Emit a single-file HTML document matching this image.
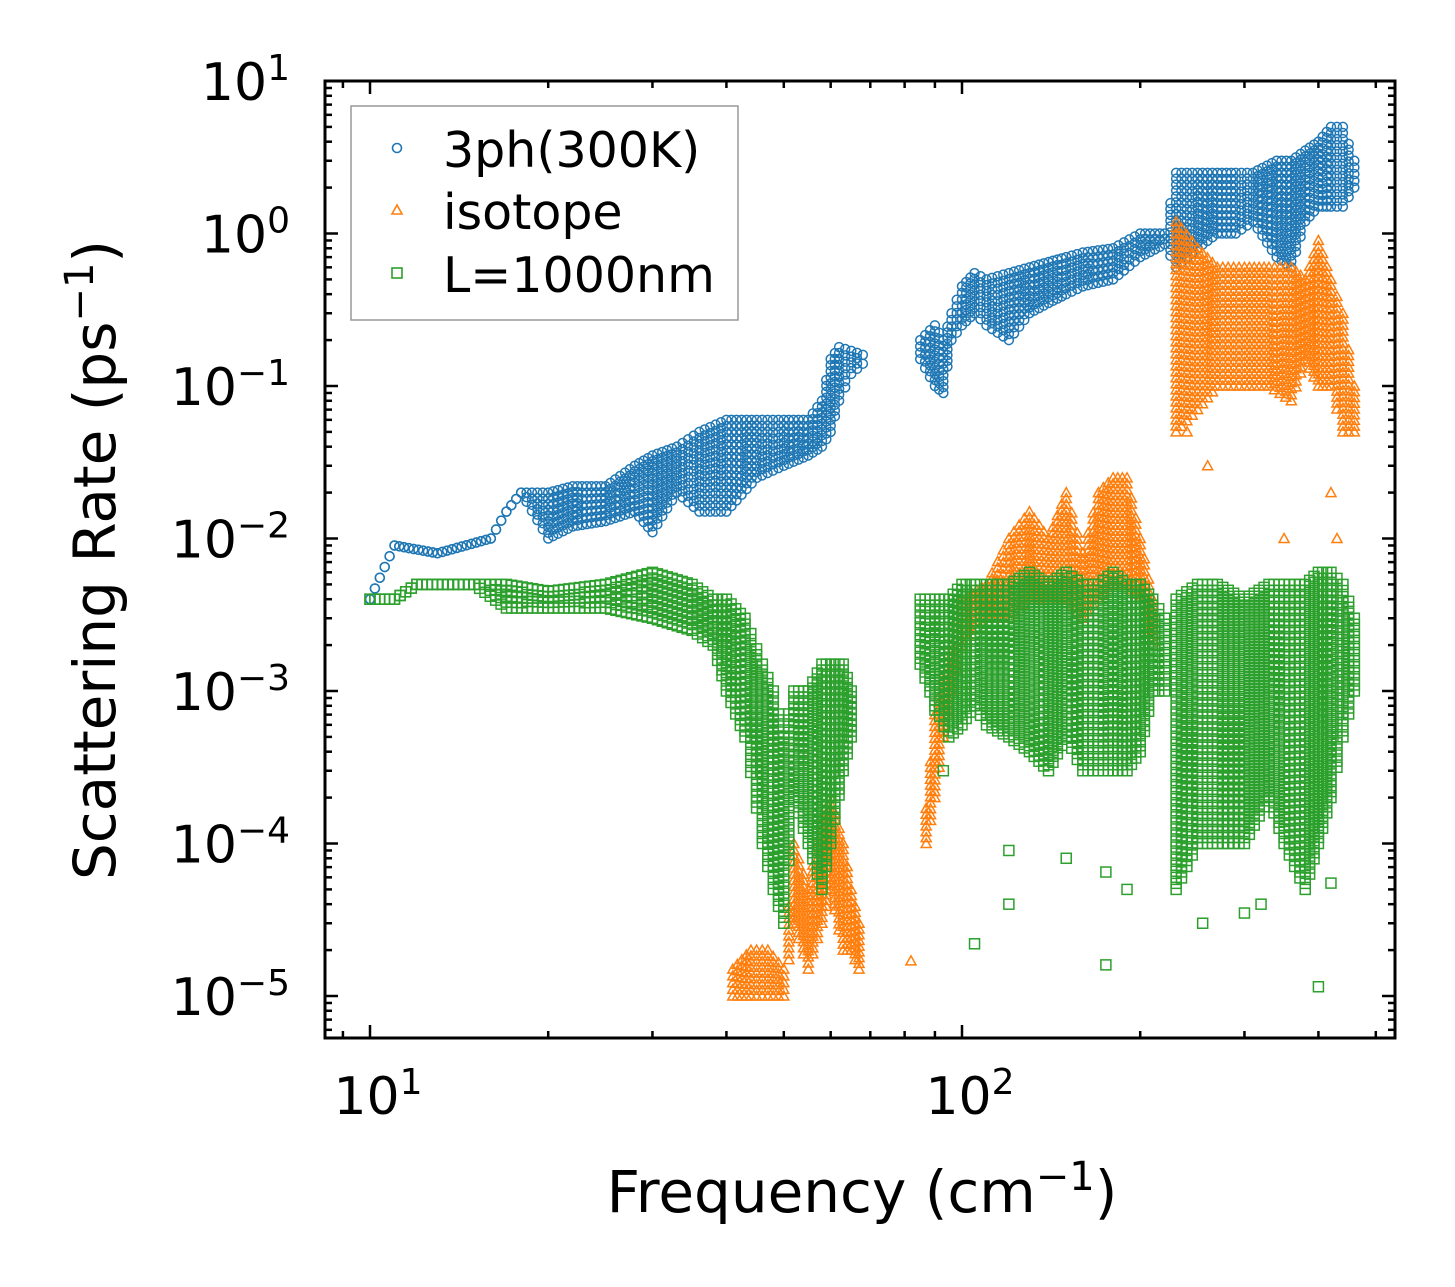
<!DOCTYPE html>
<html><head><meta charset="utf-8"><style>
body{margin:0;background:#fff}
svg{display:block}
text{font-family:"DejaVu Sans","Liberation Sans",sans-serif;fill:#000}
</style></head><body>
<svg id="chart" width="1455" height="1287" viewBox="0 0 1455 1287" xmlns="http://www.w3.org/2000/svg">
<rect width="1455" height="1287" fill="#fff"/>
<g id="marks"></g>
<g id="axes"></g>
<g id="legend">
<rect x="351" y="106" width="387" height="214" fill="#fff" fill-opacity="0.85" stroke="#999" stroke-width="1.5"/>
<circle cx="397" cy="148" r="4.5" fill="none" stroke="#1f77b4" stroke-width="1.6"/>
<text x="443" y="167" font-size="49">3ph(300K)</text>
<polygon points="397,205 402,214 392,214" fill="none" stroke="#ff7f0e" stroke-width="1.6"/>
<text x="443" y="229" font-size="49">isotope</text>
<rect x="392" y="268" width="10" height="10" fill="none" stroke="#2ca02c" stroke-width="1.6"/>
<text x="443" y="292" font-size="49">L=1000nm</text>
</g>
<text x="862" y="1212" font-size="58" text-anchor="middle">Frequency (cm<tspan dy="-22" font-size="40">−1</tspan><tspan dy="22">)</tspan></text>
<text transform="translate(115,560) rotate(-90)" font-size="58" text-anchor="middle">Scattering Rate (ps<tspan dy="-22" font-size="40">−1</tspan><tspan dy="22">)</tspan></text>
</svg>
<script>
// Envelope data: frequency (cm^-1), lower and upper scattering rate (ps^-1)
const blueFreq=[10,11,13,16,17,18,20,22,25,28,30,33,36,40,45,50,55,58,60,62,65,68];
const blueLo=[0.004,0.009,0.008,0.01,0.015,0.02,0.01,0.012,0.013,0.015,0.011,0.02,0.015,0.015,0.025,0.03,0.035,0.04,0.05,0.08,0.12,0.14];
const blueHi=[0.004,0.009,0.008,0.01,0.015,0.02,0.02,0.022,0.022,0.03,0.035,0.04,0.05,0.06,0.06,0.06,0.06,0.08,0.15,0.18,0.17,0.16];
const blueFreq2=[85,90,93,96,100,105,110,120,130,140,150,160,180,200,220,230,250,270,290,310,340,360,380,400,420,440,460];
const blueLo2=[0.15,0.1,0.09,0.2,0.25,0.3,0.25,0.2,0.3,0.35,0.4,0.45,0.5,0.7,0.85,0.6,0.8,1.0,1.0,1.2,0.7,0.6,1.2,1.5,1.5,1.5,2];
const blueHi2=[0.2,0.25,0.2,0.3,0.45,0.55,0.5,0.55,0.6,0.65,0.7,0.75,0.8,1.0,1.0,2.5,2.5,2.5,2.5,2.5,3,3,3.5,4,5,5,3];
const orFreq=[41,44,47,50,52,55,58,60,63,65,67];
const orLo=[1e-5,1e-5,1e-5,1e-5,3e-5,1.5e-5,3e-5,5e-5,2e-5,2e-5,1.5e-5];
const orHi=[1.5e-5,2e-5,2e-5,1.5e-5,1e-4,5e-5,1.5e-4,2e-4,1e-4,5e-5,3e-5];
const orFreq2=[87,90,93,96,100,110,120,130,140,150,160,170,180,190,200,210];
const orLo2=[1e-4,2e-4,5e-4,1e-3,2e-3,3e-3,3e-3,4e-3,4e-3,4e-3,3e-3,4e-3,5e-3,5e-3,4e-3,2e-3];
const orHi2=[1.7e-4,7e-4,1.2e-3,2e-3,4e-3,5e-3,1e-2,1.5e-2,1e-2,2e-2,8e-3,2e-2,2.5e-2,2.5e-2,1e-2,4e-3];
const orFreq3=[230,250,270,300,330,360,380,400,420,440,460];
const orLo3=[0.05,0.07,0.1,0.1,0.1,0.08,0.15,0.1,0.1,0.05,0.05];
const orHi3=[1.2,0.8,0.6,0.6,0.6,0.6,0.5,0.9,0.5,0.3,0.1];
const grFreq=[10,11,12,13,15,17,20,25,30,35,38,40,43,46,48,50,52,55,58,60,63,65];
const grLo=[0.004,0.004,0.005,0.005,0.005,0.0035,0.0035,0.0035,0.003,0.0025,0.002,0.001,0.0005,0.0001,0.00005,0.00003,0.0002,0.0001,0.00005,0.0001,0.0003,0.0005];
const grHi=[0.004,0.004,0.005,0.005,0.005,0.005,0.0045,0.005,0.006,0.005,0.004,0.004,0.003,0.0015,0.001,0.0005,0.001,0.001,0.0015,0.0015,0.0015,0.001];
const grFreq2=[85,90,95,100,105,110,120,130,140,150,160,170,180,190,200,210,220];
const grLo2=[0.0015,0.0008,0.0005,0.0006,0.0008,0.0006,0.0005,0.0004,0.0003,0.0005,0.0003,0.0003,0.0003,0.0003,0.0004,0.001,0.001];
const grHi2=[0.004,0.004,0.004,0.005,0.005,0.005,0.005,0.006,0.005,0.006,0.005,0.005,0.006,0.005,0.005,0.004,0.003];
const grFreq3=[230,250,270,300,330,350,380,400,420,440,460];
const grLo3=[0.00005,0.0001,0.0001,0.0001,0.0002,0.0001,0.00005,0.0001,0.0002,0.0005,0.001];
const grHi3=[0.004,0.005,0.005,0.004,0.005,0.005,0.005,0.006,0.006,0.005,0.003];
const grOutX=[120,120,105,150,175,190,175,255,300,320,420,400,90,93];
const grOutY=[9e-5,4e-5,2.2e-5,8e-5,6.5e-5,5e-5,1.6e-5,3e-5,3.5e-5,4e-5,5.5e-5,1.15e-5,7.5e-4,3e-4];
const orOutX=[82,240,260,350,420,430];
const orOutY=[1.7e-5,0.05,0.03,0.01,0.02,0.01];
const xTickVals=[10,100];
const yTickExps=[1,0,-1,-2,-3,-4,-5];

const NS="http://www.w3.org/2000/svg";
const L=325,R=1395,T=81,B=1038;
const X=f=>370+592*Math.log10(f/10);
const Y=v=>81+152.5*(1-Math.log10(v));
const marks=document.getElementById('marks');
const axes=document.getElementById('axes');
function el(tag,attrs,parent){const e=document.createElementNS(NS,tag);for(const k in attrs)e.setAttribute(k,attrs[k]);parent.appendChild(e);return e;}
const clip=el('clipPath',{id:'pc'},document.getElementById('chart'));
el('rect',{x:L,y:T,width:R-L,height:B-T},clip);
marks.setAttribute('clip-path','url(#pc)');

function marker(type,color,f,v){
  const x=X(f),y=Y(v);let e;
  if(type==='o') e=el('circle',{cx:x,cy:y,r:4.5,fill:'none',stroke:color,'stroke-width':1.5},marks);
  else if(type==='^') e=el('polygon',{points:`${x},${y-5} ${x+5},${y+4} ${x-5},${y+4}`,fill:'none',stroke:color,'stroke-width':1.5},marks);
  else e=el('rect',{x:x-5,y:y-5,width:10,height:10,fill:'none',stroke:color,'stroke-width':1.5},marks);
  
  
}
function band(type,color,fr,lo,hi){
  for(let i=0;i<fr.length;i++){
    const steps=i<fr.length-1?Math.max(1,Math.round((X(fr[i+1])-X(fr[i]))/5)):1;
    for(let s=0;s<steps;s++){
      const t=s/steps;
      const j=Math.min(i+1,fr.length-1);
      const f=Math.pow(10,Math.log10(fr[i])*(1-t)+Math.log10(fr[j])*t);
      const l=Math.log10(lo[i])*(1-t)+Math.log10(lo[j])*t;
      const h=Math.log10(hi[i])*(1-t)+Math.log10(hi[j])*t;
      const n=Math.max(1,Math.round((h-l)*152.5/6));
      for(let k=0;k<=n;k++) marker(type,color,f,Math.pow(10,l+(h-l)*k/n));
    }
  }
}
band('o','#1f77b4',blueFreq,blueLo,blueHi);
band('o','#1f77b4',blueFreq2,blueLo2,blueHi2);
band('^','#ff7f0e',orFreq,orLo,orHi);
band('^','#ff7f0e',orFreq2,orLo2,orHi2);
band('^','#ff7f0e',orFreq3,orLo3,orHi3);
orOutX.forEach((f,i)=>marker('^','#ff7f0e',f,orOutY[i]));
band('s','#2ca02c',grFreq,grLo,grHi);
band('s','#2ca02c',grFreq2,grLo2,grHi2);
band('s','#2ca02c',grFreq3,grLo3,grHi3);
grOutX.forEach((f,i)=>marker('s','#2ca02c',f,grOutY[i]));

const fr=el('rect',{x:L,y:T,width:R-L,height:B-T,fill:'none',stroke:'#000','stroke-width':3},axes);


function tick(x1,y1,x2,y2){el('line',{x1,y1,x2,y2,stroke:'#000','stroke-width':2.5},axes);}
for(let d=1;d<=500;d*=10){for(let m=1;m<10;m++){const f=d*m;if(f<8.4||f>538)continue;const x=X(f);const len=m===1?13:7;tick(x,B,x,B-len);tick(x,T,x,T+len);}}
xTickVals.forEach(v=>{const t=el('text',{x:X(v)+8,y:1114,'font-size':52,'text-anchor':'middle'},axes);t.innerHTML='10<tspan dy="-20" font-size="36">'+Math.round(Math.log10(v))+'</tspan>';

});
for(let e=-6;e<=1;e++){for(let m=1;m<10;m++){const v=m*Math.pow(10,e);const y=Y(v);if(y<T-0.5||y>B)continue;const len=m===1?13:7;tick(L,y,L+len,y);tick(R,y,R-len,y);}}
yTickExps.forEach(e=>{const t=el('text',{x:290,y:Y(Math.pow(10,e))+19,'font-size':52,'text-anchor':'end'},axes);
t.innerHTML='10<tspan dy="-20" font-size="36">'+(e<0?'−'+(-e):e)+'</tspan>';

});
</script>
</body></html>
